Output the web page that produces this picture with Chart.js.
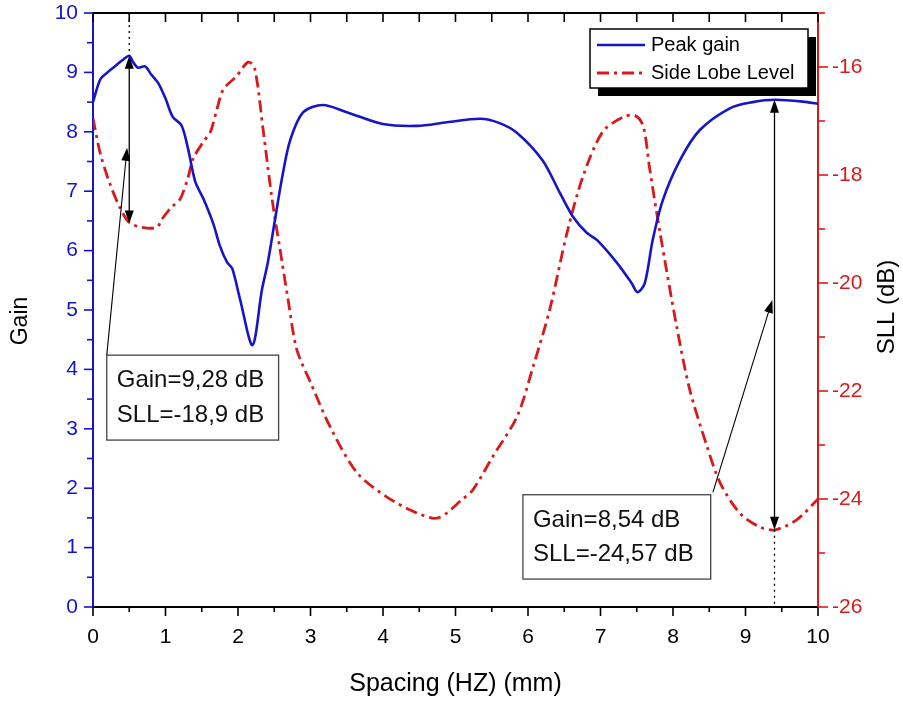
<!DOCTYPE html>
<html>
<head>
<meta charset="utf-8">
<title>Peak gain and SLL vs spacing</title>
<script src="https://cdn.jsdelivr.net/npm/chart.js@4.4.1/dist/chart.umd.min.js"></script>
<style>
  html, body { margin: 0; padding: 0; background: #fff; }
</style>
</head>
<body>
<canvas id="gainChart" width="903" height="701"></canvas>
<script>
// spacing (mm) / peak gain
const gainX = [0, 0.1, 0.2, 0.3, 0.4, 0.5, 0.55, 0.62, 0.72, 0.8, 0.9, 1.0, 1.1, 1.22, 1.31, 1.41, 1.52, 1.66, 1.75, 1.85, 1.92, 2.03, 2.2, 2.33, 2.41, 2.51, 2.61, 2.72, 2.9, 3.17, 3.5, 4.0, 4.47, 4.88, 5.34, 5.6, 5.85, 6.2, 6.44, 6.62, 6.81, 6.95, 7.23, 7.43, 7.51, 7.61, 7.72, 7.86, 8.1, 8.37, 8.79, 9.1, 9.41, 9.85, 10];
const gainY = [8.5, 8.88, 9.0, 9.1, 9.2, 9.28, 9.18, 9.08, 9.1, 8.97, 8.82, 8.56, 8.25, 8.11, 7.72, 7.16, 6.88, 6.45, 6.08, 5.8, 5.7, 5.17, 4.41, 5.34, 5.79, 6.52, 7.24, 7.86, 8.33, 8.45, 8.33, 8.13, 8.1, 8.16, 8.22, 8.15, 7.98, 7.52, 6.97, 6.57, 6.3, 6.18, 5.79, 5.45, 5.3, 5.45, 6.18, 6.85, 7.53, 8.03, 8.4, 8.5, 8.54, 8.5, 8.47];

// spacing (mm) / side lobe level (dB)
const sllX = [0, 0.1, 0.23, 0.37, 0.5, 0.68, 0.88, 0.95, 1.08, 1.2, 1.31, 1.38, 1.52, 1.62, 1.71, 1.8, 1.98, 2.14, 2.23, 2.35, 2.47, 2.58, 2.69, 2.81, 3.0, 3.27, 3.64, 4.05, 4.47, 4.76, 5.1, 5.24, 5.52, 5.85, 6.07, 6.3, 6.54, 6.76, 7.03, 7.31, 7.48, 7.59, 7.68, 7.82, 8.05, 8.23, 8.47, 8.65, 8.92, 9.2, 9.41, 9.71, 10];
const sllY = [-16.95, -17.6, -18.15, -18.6, -18.88, -18.97, -18.97, -18.82, -18.6, -18.45, -18.05, -17.7, -17.39, -17.2, -16.78, -16.41, -16.17, -15.91, -16.02, -17.2, -18.45, -19.38, -20.3, -21.23, -21.84, -22.66, -23.51, -23.96, -24.26, -24.35, -24.0, -23.83, -23.2, -22.47, -21.55, -20.49, -19.06, -18.02, -17.2, -16.93, -16.9, -17.1, -17.9, -19.06, -20.8, -21.97, -23.03, -23.7, -24.26, -24.52, -24.57, -24.38, -24.0];

// tick labels
const xTicks = [0, 1, 2, 3, 4, 5, 6, 7, 8, 9, 10];
const gainTicks = [0, 1, 2, 3, 4, 5, 6, 7, 8, 9, 10];
const sllTicks = [-26, -24, -22, -20, -18, -16];

// marked points
const markers = [
  { x: 0.5, gain: 9.28, sll: -18.9, lines: ['Gain=9,28 dB', 'SLL=-18,9 dB'] },
  { x: 9.4, gain: 8.54, sll: -24.57, lines: ['Gain=8,54 dB', 'SLL=-24,57 dB'] }
];

const BLUE = '#1616c8';
const RED = '#d81a1a';
const FONT = "'Liberation Sans', Arial, sans-serif";

function arrowHead(ctx, x, y, ang) {
  const len = 13, half = 4.5;
  ctx.save();
  ctx.translate(x, y);
  ctx.rotate(ang);
  ctx.beginPath();
  ctx.moveTo(0, 0);
  ctx.lineTo(-len, -half);
  ctx.lineTo(-len, half);
  ctx.closePath();
  ctx.fill();
  ctx.restore();
}

function line(ctx, x1, y1, x2, y2) {
  ctx.beginPath();
  ctx.moveTo(x1, y1);
  ctx.lineTo(x2, y2);
  ctx.stroke();
}

const decor = {
  id: 'decor',
  afterDraw(chart) {
    const ctx = chart.ctx;
    const area = chart.chartArea;
    const x = chart.scales.x, y = chart.scales.y, y2 = chart.scales.y2;
    ctx.save();

    // frame top line
    ctx.strokeStyle = '#000';
    ctx.lineWidth = 2;
    line(ctx, area.left, area.top, area.right, area.top);

    // tick marks
    ctx.lineWidth = 1.6;
    for (let v = 0; v <= 10.001; v += 0.5) {
      const px = x.getPixelForValue(v);
      const major = Math.abs(v - Math.round(v)) < 1e-6;
      ctx.strokeStyle = '#000';
      line(ctx, px, area.bottom, px, area.bottom + (major ? 9 : 5));
      line(ctx, px, area.top, px, area.top + 9);
      const py = y.getPixelForValue(v);
      ctx.strokeStyle = BLUE;
      line(ctx, area.left, py, area.left - (major ? 9 : 6), py);
    }
    ctx.strokeStyle = RED;
    for (let v = -26; v <= -15; v += 1) {
      const py = y2.getPixelForValue(v);
      line(ctx, area.right, py, area.right + (v % 2 === 0 ? 10 : 7), py);
    }

    // axis titles
    ctx.fillStyle = '#000';
    ctx.textAlign = 'center';
    ctx.textBaseline = 'middle';
    ctx.font = '25px ' + FONT;
    ctx.fillText('Spacing (HZ) (mm)', (area.left + area.right) / 2, 684);
    ctx.save();
    ctx.translate(21, 321);
    ctx.rotate(-Math.PI / 2);
    ctx.font = '23px ' + FONT;
    ctx.fillText('Gain', 0, 0);
    ctx.restore();
    ctx.save();
    ctx.translate(887, 307);
    ctx.rotate(-Math.PI / 2);
    ctx.font = '24px ' + FONT;
    ctx.fillText('SLL (dB)', 0, 0);
    ctx.restore();

    // marker arrows
    ctx.strokeStyle = '#000';
    ctx.fillStyle = '#000';
    markers.forEach(function (m, i) {
      const mx = x.getPixelForValue(m.x);
      const gy = y.getPixelForValue(m.gain);
      const sy = y2.getPixelForValue(m.sll);
      ctx.lineWidth = 1.3;
      line(ctx, mx, gy + 10, mx, sy - 10);
      arrowHead(ctx, mx, gy, -Math.PI / 2);
      arrowHead(ctx, mx, sy, Math.PI / 2);
      ctx.setLineDash([2, 4]);
      if (i === 0) line(ctx, mx, area.top, mx, gy);
      else line(ctx, mx, sy, mx, area.bottom);
      ctx.setLineDash([]);
    });

    // text boxes and pointers
    const boxes = [
      { x0: 0.19, x1: 2.56, top: 4.24, bot: 2.81, from: [0.19, 4.24], to: [0.47, 7.73] },
      { x0: 5.93, x1: 8.52, top: 1.89, bot: 0.47, from: [8.55, 1.93], to: [9.37, 5.17] }
    ];
    boxes.forEach(function (b, i) {
      const bl = x.getPixelForValue(b.x0), br = x.getPixelForValue(b.x1);
      const bt = y.getPixelForValue(b.top), bb = y.getPixelForValue(b.bot);
      ctx.fillStyle = '#fff';
      ctx.fillRect(bl, bt, br - bl, bb - bt);
      ctx.strokeStyle = '#444';
      ctx.lineWidth = 1.3;
      ctx.strokeRect(bl, bt, br - bl, bb - bt);
      ctx.fillStyle = '#111';
      ctx.font = '24px ' + FONT;
      ctx.textAlign = 'left';
      ctx.textBaseline = 'middle';
      const h = bb - bt;
      ctx.fillText(markers[i].lines[0], bl + 10, bt + h * 0.3);
      ctx.fillText(markers[i].lines[1], bl + 10, bt + h * 0.71);

      const fx = x.getPixelForValue(b.from[0]), fy = y.getPixelForValue(b.from[1]);
      const tx = x.getPixelForValue(b.to[0]), ty = y.getPixelForValue(b.to[1]);
      const ang = Math.atan2(ty - fy, tx - fx);
      ctx.strokeStyle = '#000';
      ctx.lineWidth = 1.1;
      line(ctx, fx, fy, tx - 10 * Math.cos(ang), ty - 10 * Math.sin(ang));
      ctx.fillStyle = '#000';
      arrowHead(ctx, tx, ty, ang);
    });

    // legend with drop shadow
    const lx = 590, ly = 29, lw = 218, lh = 59;
    ctx.fillStyle = '#000';
    ctx.fillRect(lx + 8, ly + 8, lw, lh);
    ctx.fillStyle = '#fff';
    ctx.fillRect(lx, ly, lw, lh);
    ctx.strokeStyle = '#000';
    ctx.lineWidth = 1.5;
    ctx.strokeRect(lx, ly, lw, lh);
    chart.data.datasets.forEach(function (ds, i) {
      const cy = ly + 16 + i * 28;
      ctx.strokeStyle = ds.borderColor;
      ctx.lineWidth = ds.borderWidth;
      ctx.setLineDash(ds.borderDash || []);
      line(ctx, lx + 7, cy, lx + 55, cy);
      ctx.setLineDash([]);
      ctx.fillStyle = '#000';
      ctx.font = '20px ' + FONT;
      ctx.textAlign = 'left';
      ctx.textBaseline = 'middle';
      ctx.fillText(ds.label, lx + 61, cy);
    });

    ctx.restore();
  }
};

const ctx = document.getElementById('gainChart').getContext('2d');
new Chart(ctx, {
  type: 'line',
  data: {
    datasets: [{
      label: 'Peak gain',
      data: gainX.map((v, i) => ({ x: v, y: gainY[i] })),
      borderColor: BLUE,
      borderWidth: 2.6,
      pointRadius: 0,
      tension: 0.3,
      yAxisID: 'y'
    }, {
      label: 'Side Lobe Level',
      data: sllX.map((v, i) => ({ x: v, y: sllY[i] })),
      borderColor: RED,
      borderWidth: 2.8,
      borderDash: [12, 5, 3, 5],
      pointRadius: 0,
      tension: 0.3,
      yAxisID: 'y2'
    }]
  },
  options: {
    responsive: false,
    animation: false,
    layout: { padding: { top: 13, left: 0, right: 0, bottom: 0 } },
    plugins: {
      legend: { display: false },
      tooltip: { enabled: false }
    },
    scales: {
      x: {
        type: 'linear',
        min: 0,
        max: 10,
        afterBuildTicks: s => { s.ticks = xTicks.map(v => ({ value: v })); },
        afterFit: s => { s.height = 94; s.paddingLeft = 0; s.paddingRight = 0; },
        grid: { display: false, drawTicks: false },
        border: { display: true, color: '#000', width: 2 },
        ticks: { color: '#000', padding: 18, font: { family: FONT, size: 21 } }
      },
      y: {
        position: 'left',
        min: 0,
        max: 10,
        afterBuildTicks: s => { s.ticks = gainTicks.map(v => ({ value: v })); },
        afterFit: s => { s.width = 93; s.paddingTop = 0; s.paddingBottom = 0; },
        grid: { display: false, drawTicks: false },
        border: { display: true, color: BLUE, width: 2 },
        ticks: { color: BLUE, padding: 15, font: { family: FONT, size: 21 } }
      },
      y2: {
        position: 'right',
        min: -26,
        max: -15,
        afterBuildTicks: s => { s.ticks = sllTicks.map(v => ({ value: v })); },
        afterFit: s => { s.width = 85; s.paddingTop = 0; s.paddingBottom = 0; },
        grid: { display: false, drawTicks: false },
        border: { display: true, color: RED, width: 2 },
        ticks: { color: RED, padding: 14, font: { family: FONT, size: 21 } }
      }
    }
  },
  plugins: [decor]
});
</script>
</body>
</html>
